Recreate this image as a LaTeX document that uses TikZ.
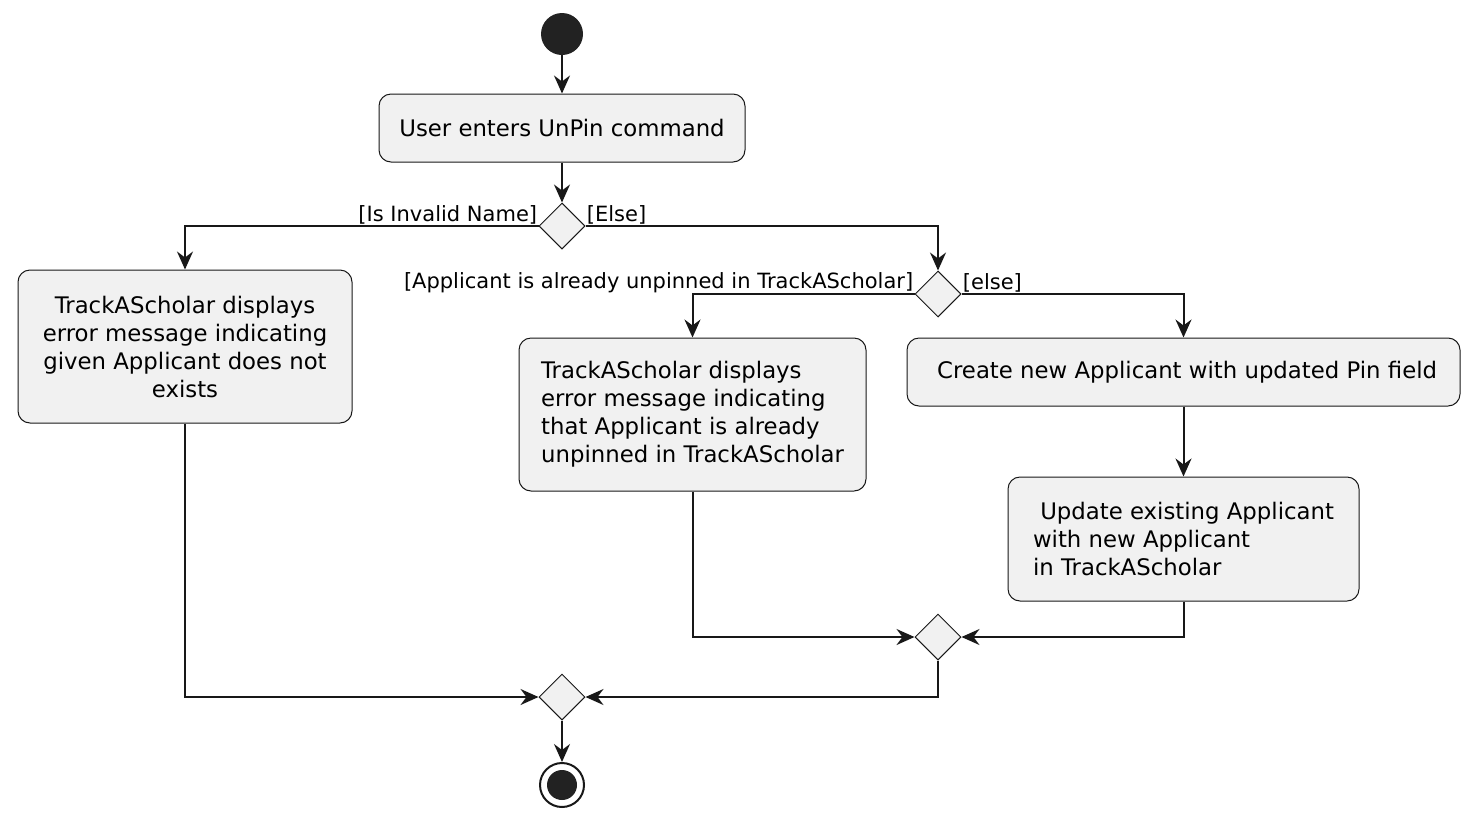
\documentclass[tikz,border=0pt]{standalone}
\usepackage{fontspec}
\setmainfont{DejaVu Sans}
\usetikzlibrary{arrows.meta}
\usetikzlibrary{shapes.geometric}

\definecolor{actfill}{HTML}{F1F1F1}
\definecolor{actline}{HTML}{181818}
\definecolor{dotfill}{HTML}{222222}

\tikzset{
	act/.style={draw=actline, fill=actfill, line width=0.5pt, rounded corners=6pt, inner sep=0pt, font=\fontsize{11.4}{14}\selectfont},
	choice/.style={diamond, aspect=1, draw=actline, fill=actfill, line width=0.5pt, inner sep=0pt, minimum width=23pt, minimum height=23pt},
	guard/.style={inner sep=0.5pt, font=\fontsize{10.5}{12}\selectfont},
	flow/.style={draw=actline, line width=1pt, -{Stealth[length=9pt, width=8pt, inset=3pt]}},
}

\begin{document}
\begin{tikzpicture}[x=0.5pt, y=-0.5pt]
	\useasboundingbox (0,0) rectangle (1478,820);

	% start and first activity
	\node [circle, fill=dotfill, minimum size=21pt, inner sep=0pt] (start) at (562,34) {};
	\node [act, minimum width=183pt, minimum height=34pt] (enter) at (562,128) {User enters UnPin command};
	\node [choice] (isname) at (562,226) {};

	% invalid name branch
	\node [act, minimum width=167pt, minimum height=76.5pt, align=center] (noexist) at (185,346.5) {TrackAScholar displays\\error message indicating\\given Applicant does not\\exists};

	% else branch
	\node [choice] (ispinned) at (938,294) {};
	\node [act, minimum width=173.5pt, minimum height=76.5pt, align=left] (already) at (692.5,414.5) {TrackAScholar displays\\error message indicating\\that Applicant is already\\unpinned in TrackAScholar};
	\node [act, minimum width=276.5pt, minimum height=34pt] (create) at (1183.5,372) {\ Create new Applicant with updated Pin field};
	\node [act, minimum width=175.5pt, minimum height=62pt, align=left] (update) at (1183.5,539) {\ Update existing Applicant\\with new Applicant\\in TrackAScholar};

	% merges and end
	\node [choice] (merge1) at (938,637) {};
	\node [choice] (merge2) at (562,697) {};
	\node [circle, draw=actline, fill=white, line width=1pt, minimum size=22pt, inner sep=0pt] (stop) at (562,785) {};
	\node [circle, fill=dotfill, minimum size=15pt, inner sep=0pt] at (stop) {};

	\node [guard, anchor=south east] at (isname.west) {[Is Invalid Name]};
	\node [guard, anchor=south west] at (isname.east) {[Else]};
	\node [guard, anchor=south east] at (ispinned.west) {[Applicant is already unpinned in TrackAScholar]};
	\node [guard, anchor=south west] at (ispinned.east) {[else]};

	\draw [flow] (start) -- (enter);
	\draw [flow] (enter) -- (isname);
	\draw [flow] (isname.west) -| (noexist.north);
	\draw [flow] (isname.east) -| (ispinned.north);
	\draw [flow] (ispinned.west) -| (already.north);
	\draw [flow] (ispinned.east) -| (create.north);
	\draw [flow] (create) -- (update);
	\draw [flow] (already.south) |- (merge1.west);
	\draw [flow] (update.south) |- (merge1.east);
	\draw [flow] (merge1.south) |- (merge2.east);
	\draw [flow] (noexist.south) |- (merge2.west);
	\draw [flow] (merge2) -- (stop);

\end{tikzpicture}
\end{document}
